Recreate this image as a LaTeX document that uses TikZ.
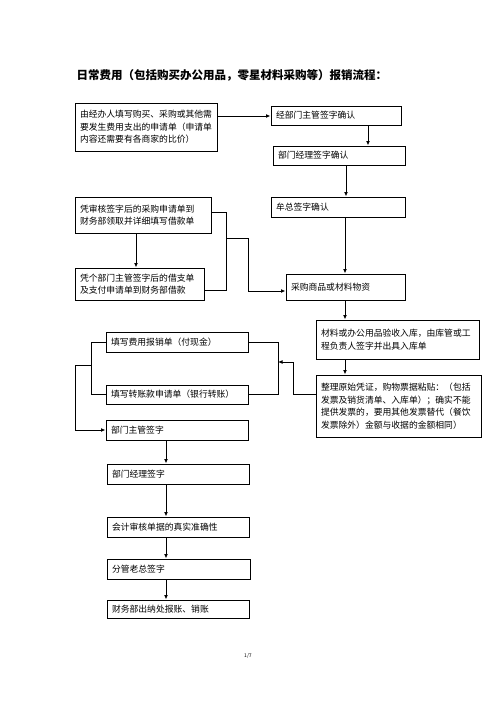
\documentclass[tikz,border=0pt]{standalone}
\usepackage{fontspec}
\newfontfamily\cjk{Noto Sans CJK SC}
\usetikzlibrary{arrows.meta}
\tikzset{
  box/.style={draw, line width=1pt, inner xsep=5pt, inner ysep=0pt, align=left, anchor=center, font=\cjk\fontsize{8.8}{12.5}\selectfont},
  arr/.style={line width=1pt, -{Latex[length=4.5pt,width=3.8pt]}},
  ln/.style={line width=1pt}
}
\newcommand{\bx}[6]{\node[box, minimum width=#4pt, minimum height=#5pt, text width=#4pt-10pt] (#1) at (#2,#3) {#6};}
\begin{document}
\begin{tikzpicture}[x=1pt,y=-1pt]
\useasboundingbox (0,0) rectangle (496,702);
\node[anchor=west, font=\cjk\bfseries\fontsize{11.5}{13}\selectfont] (title) at (73,75) {日常费用（包括购买办公用品，零星材料采购等）报销流程：};
\bx{A}{146}{127}{142}{48}{由经办人填写购买、采购或其他需\\要发生费用支出的申请单（申请单\\内容还需要有各商家的比价）}
\bx{B}{336}{115.5}{130}{19}{经部门主管签字确认}
\bx{C}{339}{155.5}{132}{19}{部门经理签字确认}
\bx{D}{338}{207}{134}{20}{牟总签字确认}
\bx{E}{143}{215}{136}{36}{凭审核签字后的采购申请单到\\财务部领取并详细填写借款单}
\bx{F}{139.5}{284}{129}{32}{凭个部门主管签字后的借支单\\及支付申请单到财务部借款}
\bx{G}{345.5}{287}{119}{26}{采购商品或材料物资}
\bx{H}{397.5}{339.5}{163}{39}{材料或办公用品验收入库，由库管或工\\程负责人签字并出具入库单}
\bx{I}{398.5}{406}{165}{62}{整理原始凭证，购物票据粘贴：（包括\\发票及销货清单、入库单）；确实不能\\提供发票的，要用其他发票替代（餐饮\\发票除外）金额与收据的金额相同）}
\bx{J}{177}{342}{142}{20}{填写费用报销单（付现金）}
\bx{K}{177}{394.5}{142}{19}{填写转账款申请单（银行转账）}
\bx{L}{177}{430}{142}{20}{部门主管签字}
\bx{M}{178}{474}{142}{20}{部门经理签字}
\bx{N}{178}{527}{142}{20}{会计审核单据的真实准确性}
\bx{O}{178.5}{569}{143}{20}{分管老总签字}
\bx{P}{178}{609}{142}{18}{财务部出纳处报账、销账}
\node[font=\cjk\fontsize{5}{6}\selectfont] (pg) at (248,656) {1/7};
% vertical arrows
\draw[arr] (A.east |- 0,116) -- (B.west |- 0,116);
\draw[arr] (B.south -| 368,0) -- (C.north -| 368,0);
\draw[arr] (C.south -| 346,0) -- (D.north -| 346,0);
\draw[arr] (D.south -| 345,0) -- (G.north -| 345,0);
\draw[arr] (G.south -| 345,0) -- (H.north -| 345,0);
\draw[arr] (H.south -| 345,0) -- (I.north -| 345,0);
\draw[arr] (E.south -| 136,0) -- (F.north -| 136,0);
\draw[arr] (L.south -| 166,0) -- (M.north -| 166,0);
\draw[arr] (M.south -| 166,0) -- (N.north -| 166,0);
\draw[arr] (N.south -| 166,0) -- (O.north -| 166,0);
\draw[arr] (O.south -| 166,0) -- (P.north -| 166,0);
% E/F to G
\draw[ln] (E.east |- 0,212) -- (226,212) -- (226,290) -- (F.east |- 0,290);
\draw[arr] (226,238) -- (248,238) -- (248,291) -- (G.west |- 0,291);
% J/K right side and I
\draw[ln] (J.east) -- (278,342) -- (278,394.5) -- (K.east);
\coordinate (jk) at (278,362);
\draw[arr] (I.west |- 0,394) -- (293,394) -- (293,362) -- (jk);
% J/K left side to L
\draw[ln] (J.west) -- (91,342) -- (91,394.5) -- (K.west);
\draw[arr] (91,365) -- (75,365) -- (75,430) -- (L.west);
\end{tikzpicture}
\end{document}
